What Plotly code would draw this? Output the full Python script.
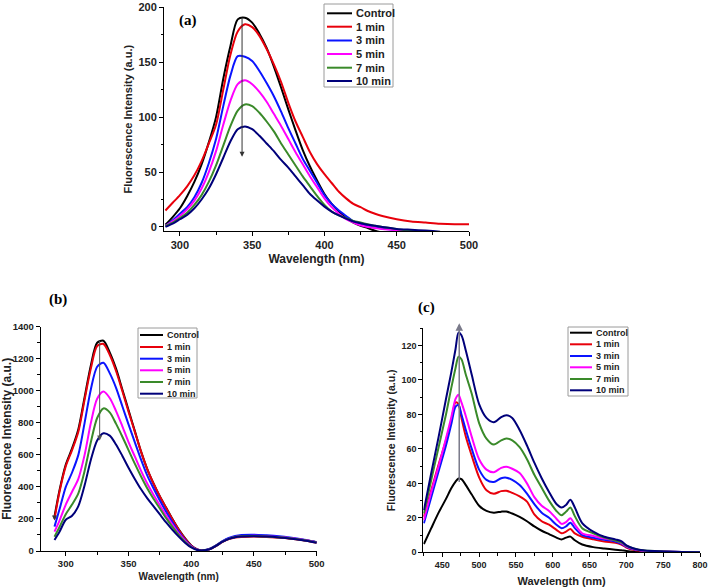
import plotly.graph_objects as go

W, H = 709, 588

series_names = ["Control", "1 min", "3 min", "5 min", "7 min", "10 min"]
series_colors = ["#000000", "#e8000b", "#0a14ff", "#ff00ff", "#3a8a2a", "#00007a"]

# ---------------- panel (a) ----------------
wl_a = [290, 295, 300, 305, 310, 315, 320, 325, 330, 335, 340, 345, 350, 355, 360, 365, 370, 375,
        380, 385, 390, 395, 400, 405, 410, 415, 420, 425, 430, 435, 440, 450, 460, 470, 480, 490, 500]
control_a = [2, 9, 17, 28, 41, 57, 77, 100, 135, 165, 189, 190.5, 186, 176, 163, 146, 127, 107,
             88, 70, 55, 42, 30, 21, 14, 8, 4, 1, -1, -3.5, -5, -6, -7, -7, -7, -7, -7]
min1_a = [15, 22, 29, 37, 47, 60, 76, 93, 125, 157, 178, 184.5, 182, 174, 162, 148, 132, 113,
          96, 82, 68, 57, 48, 40, 32, 26, 21, 18, 14.5, 12, 10, 7, 5, 4, 3, 2.5, 2.5]
min3_a = [1, 6, 12, 18, 27, 40, 58, 80, 110, 138, 155.5, 155, 151, 142, 131, 119, 105, 90,
          76, 62, 51, 40, 29, 21, 15, 10, 5, 2, 0.5, -0.5, -1.5, -3, -4.5, -6, -7, -7, -7]
min5_a = [1, 5, 10, 16, 24, 35, 50, 69, 93, 115, 130, 133.5, 130, 123, 114, 103, 92, 80,
          68, 57, 46, 36, 26, 18, 12, 7, 4, 1.5, 0, -1, -2, -3, -5, -6, -7, -7, -7]
min7_a = [1, 4, 8, 13, 20, 29, 41, 56, 74, 92, 106, 111.5, 110, 104, 96, 87, 76, 66,
          56, 46, 37, 28, 20, 14, 10.5, 8, 5.5, 4, 2.5, 1, 0, -2, -3.5, -5, -6, -7, -7]
min10_a = [0, 3, 7, 11, 17, 25, 35, 48, 63, 78, 89, 91.5, 89, 83, 76, 69, 61, 54,
           46, 38, 30, 24, 18.5, 14, 10.5, 7.5, 5, 3.3, 2, 1, 0, -1.8, -2.6, -3.3, -4.3, -5, -6]

# ---------------- panel (b) ----------------
wl_b = [291, 295, 300, 305, 310, 315, 320, 325, 330, 335, 340, 345, 350, 355, 360, 365, 370, 375,
        380, 385, 390, 395, 400, 405, 410, 415, 420, 425, 430, 435, 440, 450, 460, 470, 480, 490, 500]
control_b = [215, 380, 540, 640, 760, 960, 1160, 1300, 1312, 1240, 1140, 1010, 880, 750, 620, 510, 420, 340,
             270, 200, 135, 80, 35, 10, 4, 14, 35, 60, 78, 88, 92, 93, 90, 86, 78, 68, 55]
min1_b = [200, 370, 530, 630, 745, 945, 1140, 1280, 1292, 1225, 1125, 1000, 870, 745, 620, 510, 420, 340,
          268, 198, 133, 78, 33, 8, 3, 12, 32, 57, 74, 84, 88, 90, 88, 84, 76, 66, 52]
min3_b = [152, 260, 400, 490, 600, 800, 1010, 1150, 1175, 1110, 1020, 905, 790, 680, 570, 470, 390, 315,
          245, 180, 120, 70, 30, 8, 4, 14, 36, 62, 82, 94, 100, 102, 98, 92, 82, 70, 55]
min5_b = [121, 190, 290, 370, 450, 600, 800, 950, 995, 955, 875, 780, 680, 590, 500, 420, 350, 285,
          222, 165, 110, 65, 28, 8, 4, 12, 33, 58, 76, 87, 92, 95, 92, 87, 79, 68, 54]
min7_b = [89, 150, 230, 290, 360, 500, 680, 830, 890, 865, 795, 715, 630, 545, 465, 390, 325, 265,
          205, 150, 100, 58, 25, 7, 4, 12, 33, 58, 76, 87, 92, 94, 91, 86, 78, 67, 53]
min10_b = [69, 120, 195, 220, 280, 410, 570, 690, 735, 720, 665, 595, 520, 450, 385, 328, 278, 228,
           178, 132, 90, 52, 22, 6, 4, 12, 33, 58, 76, 86, 90, 92, 90, 85, 77, 66, 52]

# ---------------- panel (c) ----------------
wl_c = [425, 435, 445, 455, 462, 468, 472, 476, 482, 490, 500, 510, 520, 530, 537, 545, 555, 565,
        575, 585, 595, 605, 612, 618, 624, 630, 640, 655, 670, 685, 693, 700, 710, 725, 750, 775, 800]
control_c = [4.8, 14, 23, 31, 37, 41, 42.8, 42.5, 39, 33.5, 27, 24, 23, 23.6, 23.7, 22.5, 20.5, 18,
             15, 12.5, 10.5, 8.5, 7.5, 8.5, 9.1, 7, 4.5, 3, 2.2, 1.5, 1.2, 0.8, 0.4, 0.2, 0.1, 0, 0]
min1_c = [20.7, 36, 51, 65, 76, 87, 86, 78, 67, 56, 43.5, 36, 34, 35.5, 35.7, 34.5, 32.5, 29.4,
          22, 18, 16, 13, 11, 12, 13.5, 11, 9, 7.5, 6.3, 5.5, 4.5, 2.8, 1.4, 0.6, 0.3, 0.1, 0]
min3_c = [16.8, 32, 47, 62, 74, 84.5, 85.5, 80, 71, 60, 48, 42, 40.8, 43, 43.3, 42, 39, 34,
          28, 23, 20, 16, 13.9, 15, 17.2, 14, 10, 8.5, 7.3, 6.3, 5, 3.2, 1.7, 0.8, 0.4, 0.2, 0]
min5_c = [18.7, 35, 50, 66, 78, 89, 91.5, 87, 79, 67, 54, 48, 46.5, 49, 49.7, 48.5, 46, 40,
          32, 27, 24, 19.5, 16.5, 17.5, 19.7, 16, 11, 9.5, 8, 7, 5.5, 3.5, 1.9, 0.8, 0.4, 0.2, 0]
min7_c = [22.6, 42, 61, 80, 95, 107, 113.5, 112, 103, 92, 75, 66, 62.5, 65, 66, 65, 61, 54,
          45, 37.5, 30, 24, 21.5, 23.5, 26, 21, 14, 11, 8.5, 6.8, 5.8, 3.8, 2.2, 1, 0.5, 0.2, 0]
min10_c = [24.5, 46, 67, 89, 104, 118, 127.5, 126, 117, 103, 86, 78, 75.5, 78.5, 79.5, 78, 71, 62,
           52, 43, 35, 28, 26, 27.5, 30.5, 26, 17, 12, 9, 7.5, 6.5, 4, 2.2, 1, 0.5, 0.2, 0]

SANS = "Arial, Liberation Sans, sans-serif"
SERIF = "Times New Roman, Liberation Serif, serif"


def px_x(x):
    return x / W


def px_y(y):
    return 1 - y / H


panels = [
    dict(ax="", wl=wl_a, data=[control_a, min1_a, min3_a, min5_a, min7_a, min10_a]),
    dict(ax="2", wl=wl_b, data=[control_b, min1_b, min3_b, min5_b, min7_b, min10_b]),
    dict(ax="3", wl=wl_c, data=[control_c, min1_c, min3_c, min5_c, min7_c, min10_c]),
]

fig = go.Figure()
for p in panels:
    for name, color, ys in zip(series_names, series_colors, p["data"]):
        fig.add_trace(go.Scatter(
            x=p["wl"], y=ys, mode="lines", name=name, showlegend=False,
            line=dict(color=color, width=2, shape="spline", smoothing=0.8),
            xaxis="x" + p["ax"], yaxis="y" + p["ax"],
        ))


def xax(domain, rng, tickfs, title, titlefs, standoff):
    return dict(domain=domain, range=rng, dtick=50, tick0=300, ticks="outside", ticklen=4,
                tickwidth=1, tickcolor="black", automargin=False,
                minor=dict(dtick=25, tick0=300, ticks="outside", ticklen=2.5, tickcolor="black"),
                showline=True, linecolor="black", linewidth=1, showgrid=False, zeroline=False,
                tickfont=dict(family=SANS, size=tickfs, color="#222", weight="bold"),
                title=dict(text=title, font=dict(family=SANS, size=titlefs, color="#222", weight="bold"),
                           standoff=standoff))


def yax(domain, rng, dtick, tickfs, title, titlefs, standoff):
    return dict(domain=domain, range=rng, dtick=dtick, tick0=0, ticks="outside", ticklen=4,
                tickwidth=1, tickcolor="black", automargin=False,
                minor=dict(dtick=dtick / 2, ticks="outside", ticklen=2.5, tickcolor="black"),
                showline=True, linecolor="black", linewidth=1, showgrid=False, zeroline=False,
                tickfont=dict(family=SANS, size=tickfs, color="#222", weight="bold"),
                title=dict(text=title, font=dict(family=SANS, size=titlefs, color="#222", weight="bold"),
                           standoff=standoff))


XT = "Wavelength (nm)"
YT = "Fluorescence Intensity (a.u.)"

fig.update_layout(
    width=W, height=H, margin=dict(l=0, r=0, t=0, b=0, pad=0, autoexpand=False),
    paper_bgcolor="white", plot_bgcolor="white", showlegend=False,
    xaxis=dict(xax([px_x(164), px_x(469)], [289, 500], 11, XT, 12, 4), anchor="y"),
    yaxis=dict(yax([px_y(231), px_y(7.3)], [-3.7, 200], 50, 11, YT, 11, 3), anchor="x"),
    xaxis2=dict(xax([px_x(40.7), px_x(316.7)], [280, 500], 9.5, XT, 10, 4), anchor="y2"),
    yaxis2=dict(yax([px_y(551), px_y(326.7)], [0, 1400], 200, 9.5, YT, 12, 3), anchor="x2"),
    xaxis3=dict(xax([px_x(423.3), px_x(700)], [424.2, 800], 9, XT, 11, 8), anchor="y3"),
    yaxis3=dict(yax([px_y(552.3), px_y(328.3)], [0, 130], 20, 9, YT, 10.5, 3), anchor="x3"),
)

# panel labels
for txt, (x, y) in zip(["(a)", "(b)", "(c)"], [(188, 21), (58, 299), (427, 307)]):
    fig.add_annotation(text=txt, x=px_x(x), y=px_y(y), xref="paper", yref="paper",
                       showarrow=False, xanchor="center", yanchor="middle",
                       font=dict(family=SERIF, size=15, color="black", weight="bold"))

# arrows
fig.add_annotation(x=343, y=64, ax=343, ay=192, xref="x", yref="y", axref="x", ayref="y",
                   showarrow=True, arrowhead=2, arrowsize=1, arrowwidth=1, arrowcolor="#333", text="")
fig.add_annotation(x=327, y=690, ax=327, ay=1320, xref="x2", yref="y2", axref="x2", ayref="y2",
                   showarrow=True, arrowhead=2, arrowsize=1, arrowwidth=1, arrowcolor="#555", text="")
fig.add_annotation(x=291, y=190, ax=291, ay=225, xref="x2", yref="y2", axref="x2", ayref="y2",
                   showarrow=True, arrowhead=2, arrowsize=1, arrowwidth=1, arrowcolor="#333", text="")
fig.add_annotation(x=473, y=133, ax=473, ay=40, xref="x3", yref="y3", axref="x3", ayref="y3",
                   showarrow=True, arrowhead=2, arrowsize=1, arrowwidth=1.5, arrowcolor="#7a7a8a", text="")

# legend boxes (drawn as shapes + text)
legends = [
    dict(box=(324, 4, 393, 87), rows=[13.3, 26.7, 40.5, 54, 67.7, 81], line=(327, 352), tx=354, fs=11),
    dict(box=(138, 328, 197, 398), rows=[335, 347, 358.7, 370.3, 382, 393.7], line=(140, 163), tx=165, fs=9),
    dict(box=(568, 327, 628, 396), rows=[332.7, 344.3, 356, 367.3, 379, 390.3], line=(570, 592), tx=594, fs=9),
]
for lg in legends:
    x0, y0, x1, y1 = lg["box"]
    fig.add_shape(type="rect", xref="paper", yref="paper", x0=px_x(x0), x1=px_x(x1),
                  y0=px_y(y1), y1=px_y(y0), line=dict(color="#9a9a9a", width=1), fillcolor="white",
                  layer="above")
    for name, color, ry in zip(series_names, series_colors, lg["rows"]):
        fig.add_shape(type="line", xref="paper", yref="paper", x0=px_x(lg["line"][0]),
                      x1=px_x(lg["line"][1]), y0=px_y(ry), y1=px_y(ry),
                      line=dict(color=color, width=2), layer="above")
        fig.add_annotation(text=name, x=px_x(lg["tx"]), y=px_y(ry), xref="paper", yref="paper",
                           showarrow=False, xanchor="left", yanchor="middle",
                           font=dict(family=SANS, size=lg["fs"], color="#222", weight="bold"))

# remove the browser's default page margin so the figure sits at the window's top-left corner
fig.write_html("out.html", config={"displayModeBar": False},
               post_script="document.body.style.margin='0';")
